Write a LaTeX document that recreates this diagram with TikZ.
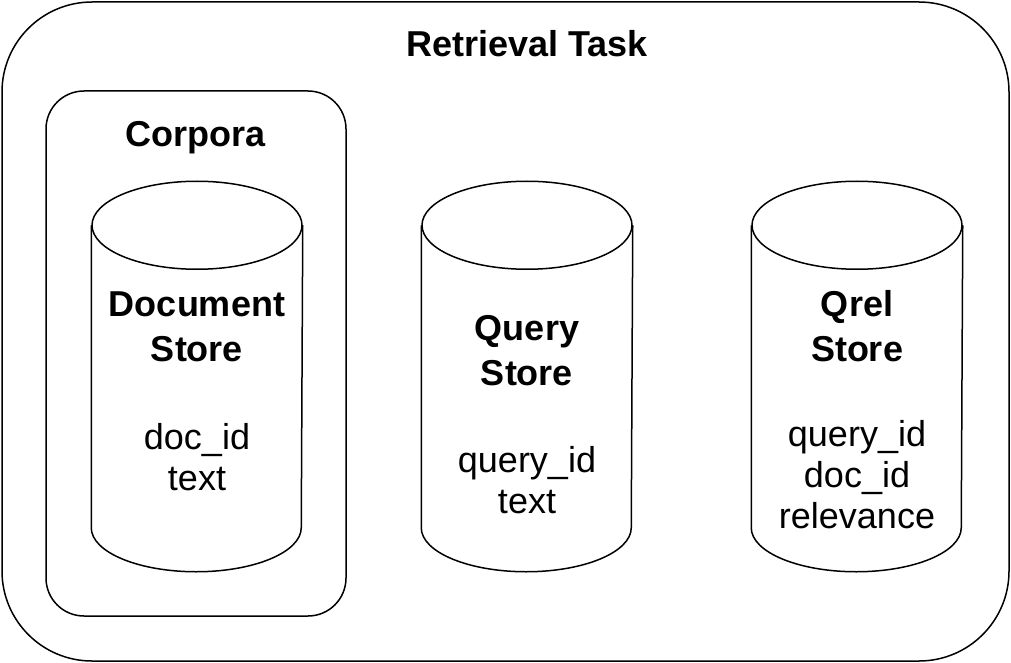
\documentclass[tikz,border=0pt]{standalone}
\usepackage{fontspec}
\setmainfont{Liberation Sans}
\usetikzlibrary{calc}

\begin{document}
\begin{tikzpicture}[x=1pt, y=-1pt, line width=1.5pt,
  store/.style={minimum width=210pt, minimum height=389pt, inner sep=0pt},
  heading/.style={font=\fontsize{36}{45}\selectfont\bfseries, align=center, anchor=base},
  fields/.style={font=\fontsize{36}{41}\selectfont, align=center, anchor=base}]
  \useasboundingbox (0,0) rectangle (1011,663);
  % the task, with the corpora inside it
  \draw[rounded corners=90pt] (2,2) rectangle (1009,661);
  \node[heading] (task) at (527,57) {Retrieval Task};
  \draw[rounded corners=38pt] (46,91) rectangle (346,616);
  \node[heading] (corpora) at (196,147) {Corpora};
  % the three stores, drawn as drums
  \node[store] (docstore) at (197,376.5) {};
  \node[store] (querystore) at (527,376.5) {};
  \node[store] (qrelstore) at (857,376.5) {};
  \foreach \s in {docstore,querystore,qrelstore}{
    \draw ($(\s.north)+(0,44)$) ellipse[x radius=105, y radius=44];
    \draw ($(\s.north west)+(0,44)$) -- ($(\s.south west)+(0,-44)$)
      arc[start angle=180, end angle=0, x radius=105, y radius=44]
      -- ($(\s.north east)+(0,44)$);
  }
  \node[heading] (doctitle) at (197,361.7) {Document\\Store};
  \node[fields] (docfields) at (197,490) {doc\_id\\text};
  \node[heading] (querytitle) at (527,385) {Query\\Store};
  \node[fields] (queryfields) at (527,513) {query\_id\\text};
  \node[heading] (qreltitle) at (857,361.7) {Qrel\\Store};
  \node[fields] (qrelfields) at (857,528) {query\_id\\doc\_id\\relevance};
\end{tikzpicture}
\end{document}
